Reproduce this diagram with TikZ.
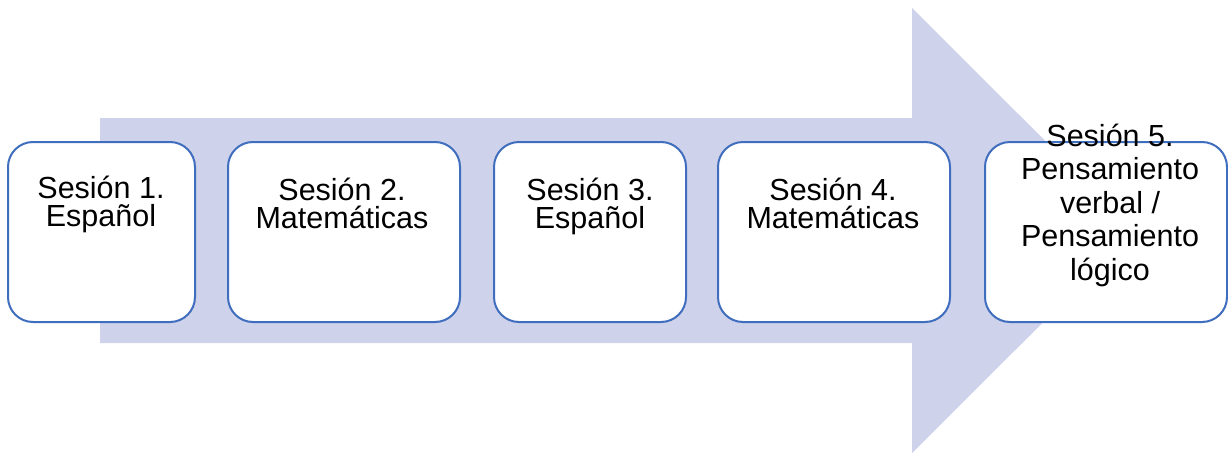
\documentclass[tikz,border=0pt]{standalone}
\usepackage{fontspec}
\setmainfont{Liberation Sans}
\definecolor{arrowfill}{RGB}{207,210,235}
\definecolor{boxline}{RGB}{64,110,190}
\begin{document}
\begin{tikzpicture}[x=1pt,y=-1pt,
  sessbox/.style={draw=boxline,line width=2pt,fill=white,rounded corners=25pt,inner sep=0pt},
  sesstext/.style={anchor=north,align=center,inner sep=0pt,font=\fontsize{30.5}{28.5}\selectfont},
  sesstextb/.style={anchor=north,align=center,inner sep=0pt,font=\fontsize{30.5}{33.5}\selectfont}]
\useasboundingbox (0,0) rectangle (1228,455);
% big arrow
\fill[arrowfill] (100,118) -- (912,118) -- (912,8) -- (1135,230.5) -- (912,453) -- (912,343) -- (100,343) -- cycle;
% boxes
\draw[sessbox] (8,142) rectangle (195,322) coordinate (b1);
\draw[sessbox] (228,142) rectangle (460,322) coordinate (b2);
\draw[sessbox] (494,142) rectangle (686,322) coordinate (b3);
\draw[sessbox] (718,142) rectangle (950,322) coordinate (b4);
\draw[sessbox] (985,142) rectangle (1227,322) coordinate (b5);
% texts
\node[sesstext] (t1) at (101,174) {\rule{0pt}{24pt}Sesión 1.\\Español};
\node[sesstext] (t2) at (342,176) {\rule{0pt}{24pt}Sesión 2.\\Matemáticas};
\node[sesstext] (t3) at (590,176) {\rule{0pt}{24pt}Sesión 3.\\Español};
\node[sesstext] (t4) at (833,176) {\rule{0pt}{24pt}Sesión 4.\\Matemáticas};
\node[sesstextb] (t5) at (1110,122) {\rule{0pt}{24pt}Sesión 5.\\Pensamiento\\verbal /\\Pensamiento\\lógico};
\end{tikzpicture}
\end{document}
